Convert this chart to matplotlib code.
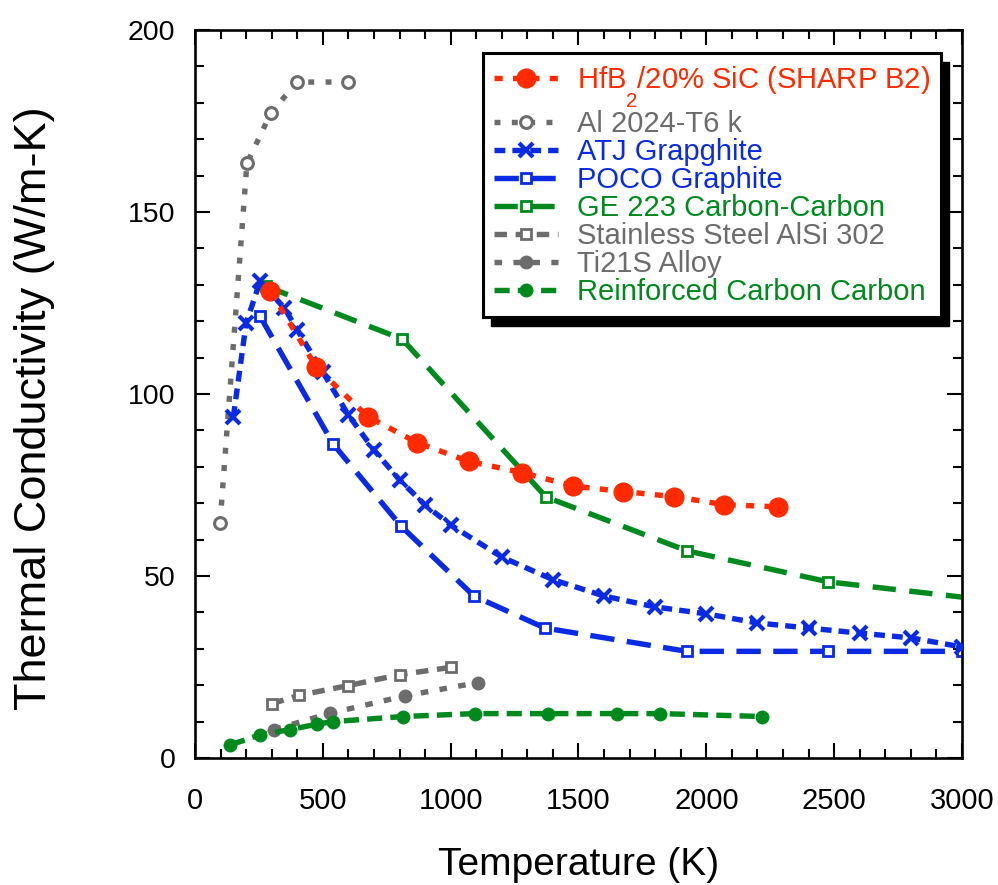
import numpy as np
import matplotlib
matplotlib.use('Agg')
from matplotlib import pyplot as plt
from matplotlib.patches import Rectangle

plt.rcParams['font.family'] = ['Liberation Sans', 'DejaVu Sans']
plt.rcParams['mathtext.fontset'] = 'custom'
plt.rcParams['mathtext.rm'] = 'Liberation Sans'
plt.rcParams['mathtext.it'] = 'Liberation Sans'

# ---- data ----
hfb_T = [295, 475, 675, 870, 1070, 1280, 1480, 1675, 1875, 2070, 2280]
hfb_k = [128.3, 107.3, 93.8, 86.6, 81.5, 78.4, 74.7, 73.2, 71.8, 69.6, 69.0]

al_T = [98, 203, 297, 399, 598]
al_k = [64.6, 163.4, 177.2, 185.7, 185.7]

atj_T = [150, 200, 255, 350, 400, 500, 600, 700, 800, 900, 1000, 1200,
         1400, 1600, 1800, 2000, 2200, 2400, 2600, 2800, 3000]
atj_k = [93.7, 119.5, 131.0, 123.6, 117.6, 106.0, 94.2, 84.6, 76.4, 69.5, 64.0,
         55.2, 49.0, 44.5, 41.5, 39.6, 37.1, 35.7, 34.3, 33.0, 30.5]

poco_T = [254, 540, 806, 1091, 1369, 1924, 2476, 3000]
poco_k = [121.4, 86.3, 63.7, 44.5, 35.7, 29.3, 29.3, 29.3]

ge_T = [278, 810, 1373, 1925, 2477, 3000]
ge_k = [129.6, 115.1, 71.7, 56.9, 48.4, 44.2]

ss_T = [300, 405, 600, 800, 1000]
ss_k = [14.9, 17.2, 19.9, 22.9, 24.9]

ti_T = [308, 529, 823, 1105]
ti_k = [7.8, 12.3, 17.1, 20.7]

rcc_T = [138, 256, 372, 477, 540, 815, 1094, 1379, 1650, 1819, 2218]
rcc_k = [3.6, 6.4, 7.8, 9.3, 10.0, 11.4, 12.2, 12.2, 12.2, 12.2, 11.4]

labels = [r'HfB$\underset{2}{\ }$/20% SiC (SHARP B2)', 'Al 2024-T6 k',
          'ATJ Grapghite', 'POCO Graphite', 'GE 223 Carbon-Carbon',
          'Stainless Steel AlSi 302', 'Ti21S Alloy', 'Reinforced Carbon Carbon']

RED = '#FF2A00'
GRAY = '#6C6C6C'
BLUE = '#0A2BE3'
GREEN = '#008A1E'
LW = 3.9

fig = plt.figure(figsize=(9.98, 8.85), dpi=100)
ax = fig.add_axes([0.1954, 0.1435, 0.7685, 0.8226])

ax.plot(hfb_T, hfb_k, color=RED, lw=LW, ls=(0, (1.5, 1.9)), marker='o', ms=13.5,
        mec=RED, mfc=RED, label=labels[0], zorder=9)
ax.plot(al_T, al_k, color=GRAY, lw=LW, ls=(0, (1.1, 2.1)), marker='o', ms=8.5,
        mec=GRAY, mfc='white', mew=2.2, label=labels[1])
ax.plot(atj_T, atj_k, color=BLUE, lw=LW, ls=(0, (2.0, 1.3)), marker='x', ms=9.5,
        mew=3, label=labels[2], zorder=8)
ax.plot(poco_T, poco_k, color=BLUE, lw=LW, ls=(0, (4.5, 2.3)), marker='s', ms=7,
        mec=BLUE, mfc='white', mew=2, label=labels[3])
ax.plot(ge_T, ge_k, color=GREEN, lw=LW, ls=(0, (4.3, 2.5)), marker='s', ms=7,
        mec=GREEN, mfc='white', mew=2, markevery=[0, 1, 2, 3, 4],
        label=labels[4])
ax.plot(ss_T, ss_k, color=GRAY, lw=LW, ls=(0, (2.3, 1.6)), marker='s', ms=7,
        mec=GRAY, mfc='white', mew=2, label=labels[5])
ax.plot(ti_T, ti_k, color=GRAY, lw=LW, ls=(0, (1.4, 2.1)), marker='o', ms=9,
        mec=GRAY, mfc=GRAY, label=labels[6])
ax.plot(rcc_T, rcc_k, color=GREEN, lw=LW, ls=(0, (2.8, 1.5)), marker='o', ms=9,
        mec=GREEN, mfc=GREEN, label=labels[7])

ax.set_xlim(0, 3000)
ax.set_ylim(0, 200)
ax.set_xticks(np.arange(0, 3001, 500))
ax.set_xticks(np.arange(0, 3001, 100), minor=True)
ax.set_yticks(np.arange(0, 201, 50))
ax.set_yticks(np.arange(0, 201, 10), minor=True)
for s in ax.spines.values():
    s.set_linewidth(1.9)
ax.tick_params(which='both', direction='in', top=True, right=True, width=1.5)
ax.tick_params(which='major', length=11)
ax.tick_params(which='minor', length=6.5)
ax.tick_params(axis='x', labelsize=21, pad=21)
ax.tick_params(axis='y', labelsize=20.5, pad=14)

ax.set_xlabel('Temperature (K)', fontsize=28)
ax.set_ylabel('Thermal Conductivity (W/m-K)', fontsize=32.5)
ax.xaxis.set_label_coords(0.5, -0.122)
ax.yaxis.set_label_coords(-0.182, 0.48)

leg = ax.legend(loc='upper left', bbox_to_anchor=(0.3755, 0.968), borderaxespad=0,
                fontsize=21, labelcolor='linecolor', fancybox=False,
                edgecolor='black', framealpha=1, handlelength=2.2,
                handletextpad=0.65, labelspacing=0.0, borderpad=0.38)
leg.get_frame().set_linewidth(2.2)
leg.set_zorder(20)

# black drop shadow behind the legend box
fig.canvas.draw()
bb = leg.get_window_extent().transformed(ax.transAxes.inverted())
dx = 8 / (ax.bbox.width)
dy = 9 / (ax.bbox.height)
ax.add_patch(Rectangle((bb.x0 + dx, bb.y0 - dy), bb.width, bb.height,
                       transform=ax.transAxes, color='black', clip_on=False,
                       zorder=19))

fig.savefig('out.png', dpi=100)
